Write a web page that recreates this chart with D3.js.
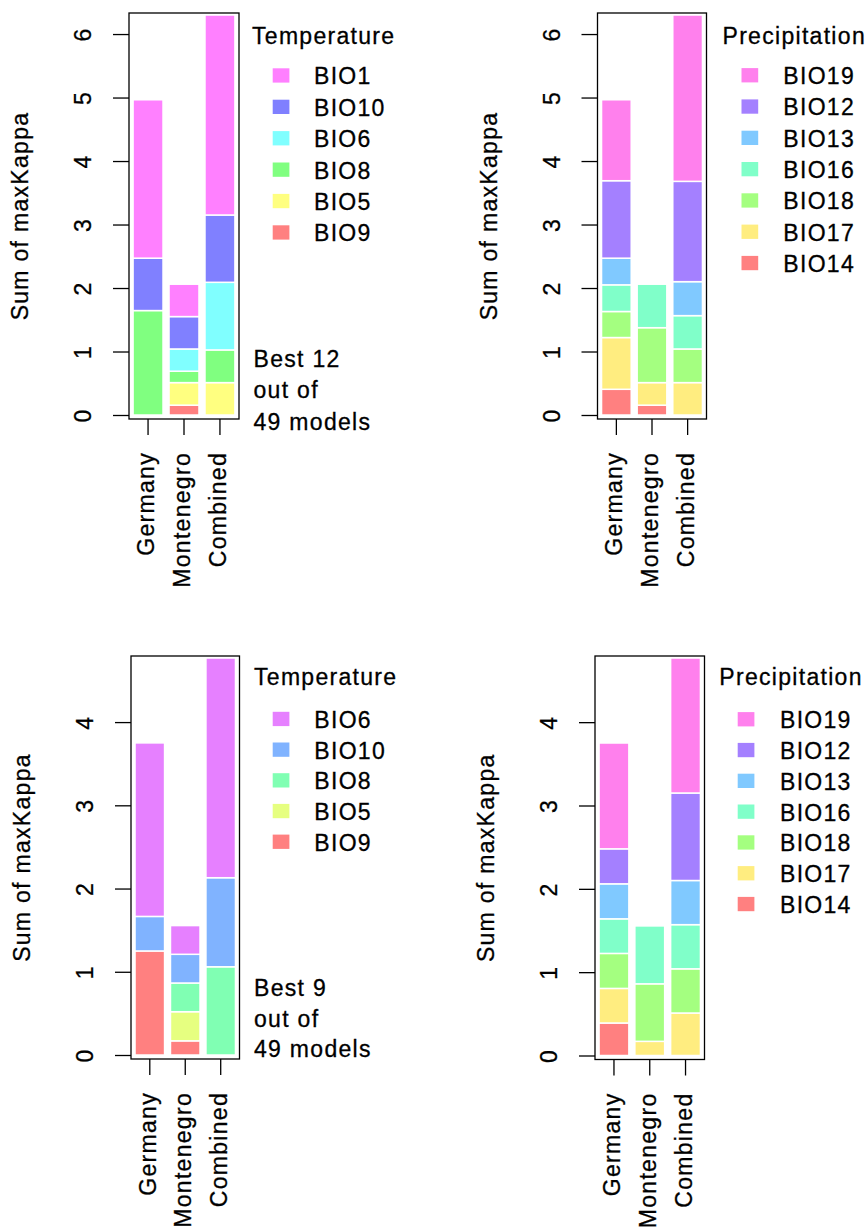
<!DOCTYPE html>
<html>
<head>
<meta charset="utf-8">
<script src="https://cdn.jsdelivr.net/npm/d3@7"></script>
<style>
  html, body { margin: 0; padding: 0; background: #fff; }
  svg { display: block; }
  text { font-family: "Liberation Sans", Arial, Helvetica, sans-serif; font-size: 23px; letter-spacing: 1.3px; fill: #000; stroke: #000; stroke-width: 0.3px; }
</style>
</head>
<body>
<svg id="chart" width="865" height="1227"></svg>
<script>
// ---------------- DATA ----------------
const categories = ["Germany", "Montenegro", "Combined"];

// Top-left: Temperature, best 12 models (stack order bottom -> top)
const tempTopSeries = ["BIO9", "BIO5", "BIO8", "BIO6", "BIO10", "BIO1"];
const tempTopColors = ["#FF8080", "#FFFF80", "#80FF80", "#80FFFF", "#8080FF", "#FF80FF"];
const tempTopGermany    = [0,     0,     1.645, 0,     0.825, 2.495];
const tempTopMontenegro = [0.155, 0.355, 0.18,  0.35,  0.51,  0.51];
const tempTopCombined   = [0,     0.51,  0.515, 1.065, 1.06,  3.15];

// Top-right: Precipitation, best 12 models
const precTopSeries = ["BIO14", "BIO17", "BIO18", "BIO16", "BIO13", "BIO12", "BIO19"];
const precTopColors = ["#FF8080", "#FFED80", "#A4FF80", "#80FFC9", "#80C9FF", "#A480FF", "#FF80ED"];
const precTopGermany    = [0.405, 0.815, 0.41,  0.42,  0.42,  1.22, 1.275];
const precTopMontenegro = [0.155, 0.355, 0.865, 0.685, 0,     0,    0];
const precTopCombined   = [0,     0.51,  0.53,  0.525, 0.535, 1.58, 2.62];

// Bottom-left: Temperature, best 9 models
const tempBotSeries = ["BIO9", "BIO5", "BIO8", "BIO10", "BIO6"];
const tempBotColors = ["#FF8080", "#E6FF80", "#80FFB3", "#80B3FF", "#E680FF"];
const tempBotGermany    = [1.25, 0,    0,     0.415, 2.085];
const tempBotMontenegro = [0.17, 0.35, 0.345, 0.345, 0.345];
const tempBotCombined   = [0,    0,    1.06,  1.07,  2.64];

// Bottom-right: Precipitation, best 9 models
const precBotSeries = ["BIO14", "BIO17", "BIO18", "BIO16", "BIO13", "BIO12", "BIO19"];
const precBotColors = ["#FF8080", "#FFED80", "#A4FF80", "#80FFC9", "#80C9FF", "#A480FF", "#FF80ED"];
const precBotGermany    = [0.39, 0.415, 0.42, 0.415, 0.42, 0.42, 1.27];
const precBotMontenegro = [0,    0.17,  0.69, 0.695, 0,    0,    0];
const precBotCombined   = [0,    0.51,  0.53, 0.53,  0.53, 1.05, 1.62];

const topTicks = [0, 1, 2, 3, 4, 5, 6];
const botTicks = [0, 1, 2, 3, 4];
const yLabel = "Sum of maxKappa";
const noteTop = ["Best 12", "out of", "49 models"];
const noteBot = ["Best 9", "out of", "49 models"];

// ---------------- LAYOUT ----------------
const panels = [
  { title: "Temperature", series: tempTopSeries, colors: tempTopColors,
    values: [tempTopGermany, tempTopMontenegro, tempTopCombined], ticks: topTicks, note: noteTop,
    box: { left: 129, right: 239, top: 13, bottom: 419 },
    leg: { titleX: 252, titleY: 43.5, sqX: 272.7, textX: 314, y0: 75.5, dy: 31.4 },
    noteX: 253.5, noteY: 366.5, noteDy: 31.5 },
  { title: "Precipitation", series: precTopSeries, colors: precTopColors,
    values: [precTopGermany, precTopMontenegro, precTopCombined], ticks: topTicks, note: null,
    box: { left: 597.5, right: 706.5, top: 13, bottom: 419 },
    leg: { titleX: 722.5, titleY: 43.5, sqX: 741.5, textX: 783.3, y0: 75.3, dy: 31.3 } },
  { title: "Temperature", series: tempBotSeries, colors: tempBotColors,
    values: [tempBotGermany, tempBotMontenegro, tempBotCombined], ticks: botTicks, note: noteBot,
    box: { left: 131, right: 239.5, top: 656, bottom: 1059 },
    leg: { titleX: 254, titleY: 685, sqX: 272.7, textX: 314.3, y0: 719, dy: 30.7 },
    noteX: 254, noteY: 996, noteDy: 30.5 },
  { title: "Precipitation", series: precBotSeries, colors: precBotColors,
    values: [precBotGermany, precBotMontenegro, precBotCombined], ticks: botTicks, note: null,
    box: { left: 595, right: 704.5, top: 656, bottom: 1059.5 },
    leg: { titleX: 719.3, titleY: 685, sqX: 737.7, textX: 780, y0: 719.3, dy: 30.8 } }
];

const svg = d3.select("#chart");
svg.append("rect").attr("width", 865).attr("height", 1227).attr("fill", "#fff");

panels.forEach(p => {
  const g = svg.append("g");
  const b = p.box;

  // table for the stack
  const table = categories.map((c, i) => {
    const row = { cat: c };
    p.series.forEach((s, j) => row[s] = p.values[i][j]);
    return row;
  });
  const stacked = d3.stack().keys(p.series)(table);
  const maxTotal = d3.max(table, r => d3.sum(p.series, s => r[s]));

  const x = d3.scaleBand().domain(categories)
    .range([b.left, b.right]).paddingInner(0.2 / 1.2).paddingOuter(0.136 / 1.2);
  const y = d3.scaleLinear().domain([0, maxTotal]).range([b.bottom - 4, b.top + 2]);
  const color = d3.scaleOrdinal().domain(p.series).range(p.colors);

  // bars
  g.selectAll("g.layer").data(stacked).join("g").attr("class", "layer")
    .attr("fill", d => color(d.key))
    .selectAll("rect").data(d => d.filter(v => v[1] - v[0] > 0)).join("rect")
      .attr("x", d => x(d.data.cat))
      .attr("width", x.bandwidth())
      .attr("y", d => y(d[1]))
      .attr("height", d => y(d[0]) - y(d[1]))
      .attr("stroke", "#fff").attr("stroke-width", 1.5);

  // box
  g.append("rect").attr("x", b.left).attr("y", b.top)
    .attr("width", b.right - b.left).attr("height", b.bottom - b.top)
    .attr("fill", "none").attr("stroke", "#000").attr("stroke-width", 1.3);

  // y axis ticks & labels
  const yAxis = d3.axisLeft(y).tickValues(p.ticks).tickSize(16).tickFormat(d3.format("d"));
  const ya = g.append("g").attr("transform", `translate(${b.left},0)`).call(yAxis);
  ya.select(".domain").remove();
  ya.selectAll(".tick line").attr("stroke", "#000").attr("stroke-width", 1.3);
  ya.selectAll(".tick text").remove();
  ya.selectAll(".tick").append("text")
    .attr("transform", "translate(-38,0) rotate(-90)")
    .attr("text-anchor", "middle")
    .style("font-size", "23px")
    .text(d => d);

  // x axis ticks & labels
  const xa = g.append("g").attr("transform", `translate(0,${b.bottom})`)
    .call(d3.axisBottom(x).tickSize(16));
  xa.select(".domain").remove();
  xa.selectAll(".tick line").attr("stroke", "#000").attr("stroke-width", 1.3);
  xa.selectAll(".tick text").remove();
  xa.selectAll(".tick").append("text")
    .attr("transform", "translate(6,33) rotate(-90)")
    .attr("text-anchor", "end")
    .style("font-size", "23px")
    .text(d => d);

  // y label
  g.append("text")
    .attr("transform", `translate(${b.left - 101},${(b.top + b.bottom) / 2}) rotate(-90)`)
    .attr("text-anchor", "middle")
    .text(yLabel);

  // legend
  const L = p.leg;
  g.append("text").attr("x", L.titleX).attr("y", L.titleY).text(p.title);
  const legendKeys = p.series.slice().reverse();
  const li = g.selectAll("g.leg").data(legendKeys).join("g").attr("class", "leg")
    .attr("transform", (d, i) => `translate(0,${L.y0 + i * L.dy})`);
  li.append("rect").attr("x", L.sqX).attr("y", -7.2).attr("width", 16.7).attr("height", 14.3)
    .attr("fill", d => color(d));
  li.append("text").attr("x", L.textX).attr("y", 8.8).text(d => d);

  // note
  if (p.note) {
    g.selectAll("text.note").data(p.note).join("text").attr("class", "note")
      .attr("x", p.noteX).attr("y", (d, i) => p.noteY + i * p.noteDy).text(d => d);
  }
});
</script>
</body>
</html>
